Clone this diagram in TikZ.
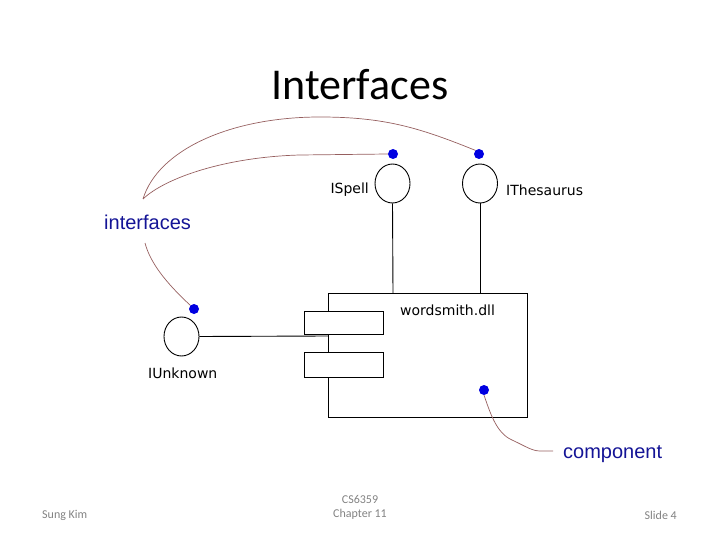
\documentclass[tikz,border=0pt]{standalone}
\usepackage{fontspec}
\setmainfont{Carlito}
\newfontfamily\diagfont{DejaVu Sans}
\newfontfamily\armfont{Liberation Sans}
\usetikzlibrary{shapes.geometric}
\definecolor{callout}{RGB}{150,95,95}
\definecolor{dotblue}{RGB}{0,0,225}
\definecolor{txtblue}{RGB}{20,20,150}
\definecolor{foot}{RGB}{130,130,130}
\tikzset{
  iface/.style={draw=black, ellipse, minimum width=35pt, minimum height=39pt, inner sep=0pt, line width=0.9pt},
  pin/.style={circle, fill=dotblue, minimum size=10pt, inner sep=0pt},
  lbl/.style={font=\diagfont\fontsize{14}{16}\selectfont, inner sep=0pt},
  note/.style={font=\armfont\fontsize{20}{22}\selectfont, text=txtblue, inner sep=0pt},
  footer/.style={font=\fontsize{12}{14}\selectfont, text=foot, inner sep=0pt, align=center},
  wire/.style={draw=black, line width=0.9pt},
  leader/.style={draw=callout, line width=0.7pt},
  port/.style={draw=black, fill=white, line width=0.9pt}
}
\begin{document}
\begin{tikzpicture}[x=1pt,y=-1pt]
\useasboundingbox (0,0) rectangle (720,540);
% title
\node[font=\fontsize{44}{50}\selectfont, inner sep=0pt] (title) at (360,85) {Interfaces};
% component box
\draw[wire] (328,293) rectangle (527,417);
\node[port, minimum width=79pt, minimum height=23pt, inner sep=0pt] (p1) at (343.5,322.5) {};
\node[port, minimum width=79pt, minimum height=25pt, inner sep=0pt] (p2) at (343.5,364.5) {};
\coordinate (boxtopS) at (393,293);
\coordinate (boxtopT) at (480,293);
\coordinate (boxleft) at (328,336);
% interfaces
\node[iface] (ispell) at (392.5,183.5) {};
\node[iface] (ithes) at (480,183.5) {};
\node[iface] (iunk) at (181.5,336.5) {};
\draw[wire] (ispell.south) -- (boxtopS);
\draw[wire] (ithes.south) -- (boxtopT);
\draw[wire] (iunk.east) -- (boxleft);
% labels
\node[lbl, anchor=east] (lspell) at (369,190) {ISpell};
\node[lbl, anchor=west] (lthes) at (506,190) {IThesaurus};
\node[lbl, anchor=west] (lunk) at (148,373) {IUnknown};
\node[lbl, anchor=west] (ldll) at (400,310) {wordsmith.dll};
% notes
\node[note, anchor=west] (ninter) at (104,222) {interfaces};
\node[note, anchor=west] (ncomp) at (563,454) {component};
% pins
\node[pin] (dspell) at (393,154) {};
\node[pin] (dthes) at (479,154) {};
\node[pin] (dunk) at (194,309) {};
\node[pin] (dcomp) at (484,390) {};
% leaders
\coordinate (tip) at (143,199);
\coordinate (itop) at (145,243);
\coordinate (cend) at (553,451);
\draw[leader] (dspell.west) -- (300,155) .. controls (225,157) and (165,178) .. (tip);
\draw[leader] (dthes.north west) .. controls (420,128) and (385,117) .. (320,117)
   .. controls (230,117) and (158,150) .. (tip);
\draw[leader] (itop) .. controls (150,262) and (165,282) .. (dunk.north west);
\draw[leader] (dcomp.south) .. controls (490,412) and (496,433) .. (512,440) .. controls (525,446) and (532,451) .. (540,451) -- (cend);
% footer
\node[footer, anchor=west] (fl) at (42,515) {Sung Kim};
\node[footer] (fc) at (360,507.5) {CS6359\\Chapter 11};
\node[footer, anchor=east] (fr) at (677,515) {Slide 4};
\end{tikzpicture}
\end{document}
